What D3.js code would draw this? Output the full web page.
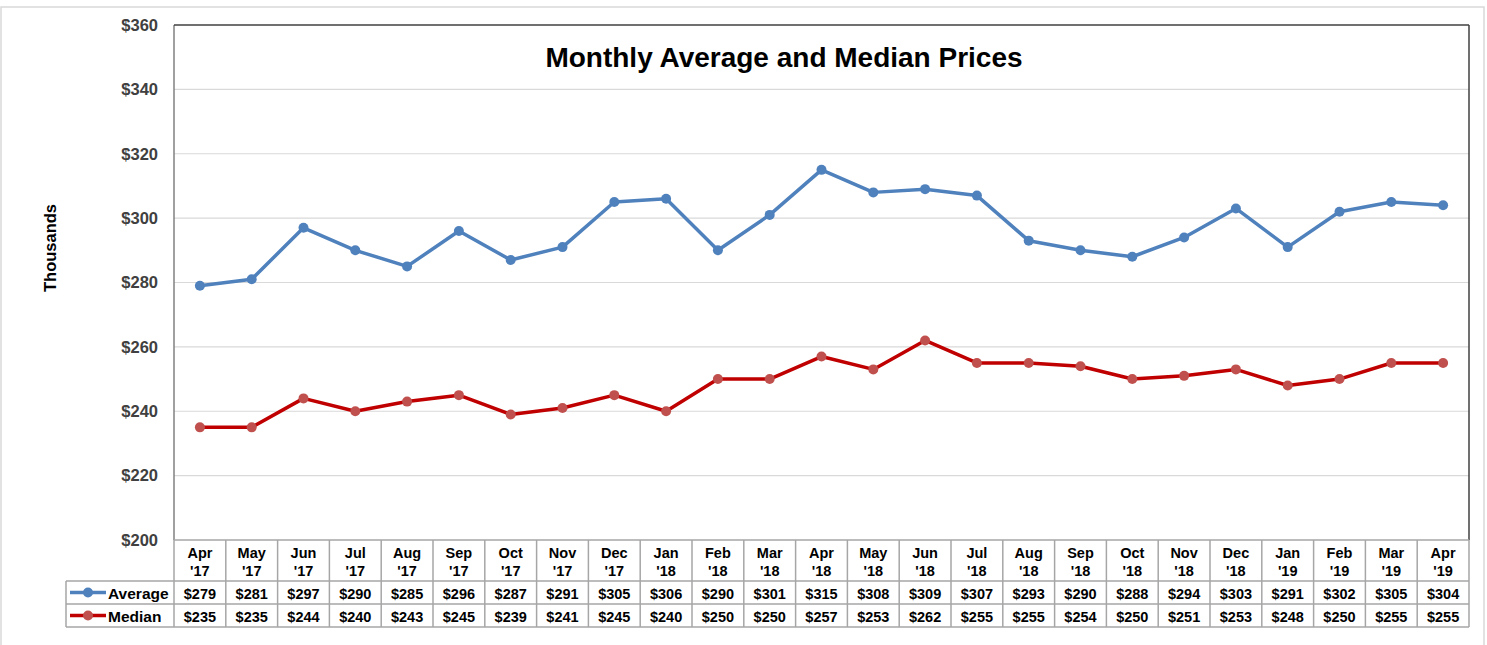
<!DOCTYPE html>
<html><head><meta charset="utf-8">
<script src="https://cdn.jsdelivr.net/npm/d3@7"></script>
<style>body{margin:0;background:#fff}svg{display:block;font-family:Arial,"Liberation Sans",sans-serif}</style>
</head><body><svg id="c" width="1487" height="645"></svg>
<script>
const months = ["Apr","May","Jun","Jul","Aug","Sep","Oct","Nov","Dec","Jan","Feb","Mar","Apr","May","Jun","Jul","Aug","Sep","Oct","Nov","Dec","Jan","Feb","Mar","Apr"];
const years = ["'17","'17","'17","'17","'17","'17","'17","'17","'17","'18","'18","'18","'18","'18","'18","'18","'18","'18","'18","'18","'18","'19","'19","'19","'19"];
const average = [279,281,297,290,285,296,287,291,305,306,290,301,315,308,309,307,293,290,288,294,303,291,302,305,304];
const median = [235,235,244,240,243,245,239,241,245,240,250,250,257,253,262,255,255,254,250,251,253,248,250,255,255];
const yTicks = [200,220,240,260,280,300,320,340,360];
const series = [
  {name:"Average", values:average, line:"#4F81BD", marker:"#4F81BD"},
  {name:"Median", values:median, line:"#C00000", marker:"#C0504D"}
];

const svg = d3.select("#c");
const L = 174, R = 1469, T = 25, B = 540;
const keys = months.map((m,i)=>i);
const x = d3.scaleBand().domain(keys).range([L,R]).padding(0);
const y = d3.scaleLinear().domain([200,360]).range([B,T]);

// outer border
svg.append("rect").attr("x",1).attr("y",7).attr("width",1483).attr("height",650)
  .attr("fill","none").attr("stroke","#d9d9d9").attr("stroke-width",1.5);

// gridlines
svg.append("g").selectAll("line").data(yTicks.filter(t=>t>200 && t<360)).join("line")
  .attr("x1",L).attr("x2",R).attr("y1",d=>y(d)).attr("y2",d=>y(d))
  .attr("stroke","#d9d9d9").attr("stroke-width",1.2);

// y axis labels
const yAxis = d3.axisLeft(y).tickValues(yTicks).tickFormat(d=>"$"+d).tickSize(0).tickPadding(16);
const ga = svg.append("g").attr("transform",`translate(${L},0)`).call(yAxis);
ga.select(".domain").remove();
ga.selectAll("text").attr("font-size",16.5).attr("font-weight","bold").attr("fill","#404040")
  .attr("font-family","Arial, 'Liberation Sans', sans-serif");

// plot frame
svg.append("line").attr("x1",L).attr("x2",L).attr("y1",T).attr("y2",B).attr("stroke","#808080").attr("stroke-width",1.5);
svg.append("line").attr("x1",L).attr("x2",R).attr("y1",T).attr("y2",T).attr("stroke","#404040").attr("stroke-width",1.5);
svg.append("line").attr("x1",R).attr("x2",R).attr("y1",T).attr("y2",B).attr("stroke","#404040").attr("stroke-width",1.5);

// y title
svg.append("text").attr("transform","translate(56,248) rotate(-90)").attr("text-anchor","middle")
  .attr("font-size",16.5).attr("font-weight","bold").attr("fill","#000").text("Thousands");

// title
svg.append("text").attr("x",784).attr("y",67).attr("text-anchor","middle")
  .attr("font-size",28).attr("font-weight","bold").attr("fill","#000").text("Monthly Average and Median Prices");

// series
const cx = i => x(i) + x.bandwidth()/2;
series.forEach(s=>{
  svg.append("path").datum(s.values)
    .attr("d", d3.line().x((d,i)=>cx(i)).y(d=>y(d)))
    .attr("fill","none").attr("stroke",s.line).attr("stroke-width",3.5).attr("stroke-linejoin","round");
  svg.append("g").selectAll("circle").data(s.values).join("circle")
    .attr("cx",(d,i)=>cx(i)).attr("cy",d=>y(d)).attr("r",5).attr("fill",s.marker);
});

// data table
const rowH = [B, 581, 604, 627];
const gridC = "#a6a6a6";
const tg = svg.append("g");
keys.forEach(i=>{
  tg.append("line").attr("x1",x(i)).attr("x2",x(i)).attr("y1",B).attr("y2",627).attr("stroke",gridC).attr("stroke-width",1.5);
});
tg.append("line").attr("x1",R).attr("x2",R).attr("y1",B).attr("y2",627).attr("stroke",gridC).attr("stroke-width",1.5);
tg.append("line").attr("x1",L).attr("x2",R).attr("y1",B).attr("y2",B).attr("stroke",gridC).attr("stroke-width",1.5);
[581,604,627].forEach(yy=>{
  tg.append("line").attr("x1",66).attr("x2",R).attr("y1",yy).attr("y2",yy).attr("stroke",gridC).attr("stroke-width",1.5);
});
tg.append("line").attr("x1",66).attr("x2",66).attr("y1",581).attr("y2",627).attr("stroke",gridC).attr("stroke-width",1.5);

// header labels
keys.forEach(i=>{
  const t = tg.append("text").attr("x",cx(i)).attr("text-anchor","middle").attr("font-size",14.5).attr("font-weight","bold").attr("fill","#000");
  t.append("tspan").attr("x",cx(i)).attr("y",558).text(months[i]);
  t.append("tspan").attr("x",cx(i)).attr("y",576).text(years[i]);
});
// values
series.forEach((s,si)=>{
  const yy = rowH[si+1] + 17.5;
  tg.append("g").selectAll("text").data(s.values).join("text")
    .attr("x",(d,i)=>cx(i)).attr("y",yy).attr("text-anchor","middle")
    .attr("font-size",14.5).attr("font-weight","bold").attr("fill","#000").text(d=>"$"+d);
  const ly = rowH[si+1] + 11.5;
  tg.append("line").attr("x1",70).attr("x2",106).attr("y1",ly).attr("y2",ly).attr("stroke",s.line).attr("stroke-width",3.5);
  tg.append("circle").attr("cx",88).attr("cy",ly).attr("r",5).attr("fill",s.marker);
  tg.append("text").attr("x",108).attr("y",yy).attr("font-size",15.5).attr("font-weight","bold").attr("fill","#000").text(s.name);
});
</script></body></html>
